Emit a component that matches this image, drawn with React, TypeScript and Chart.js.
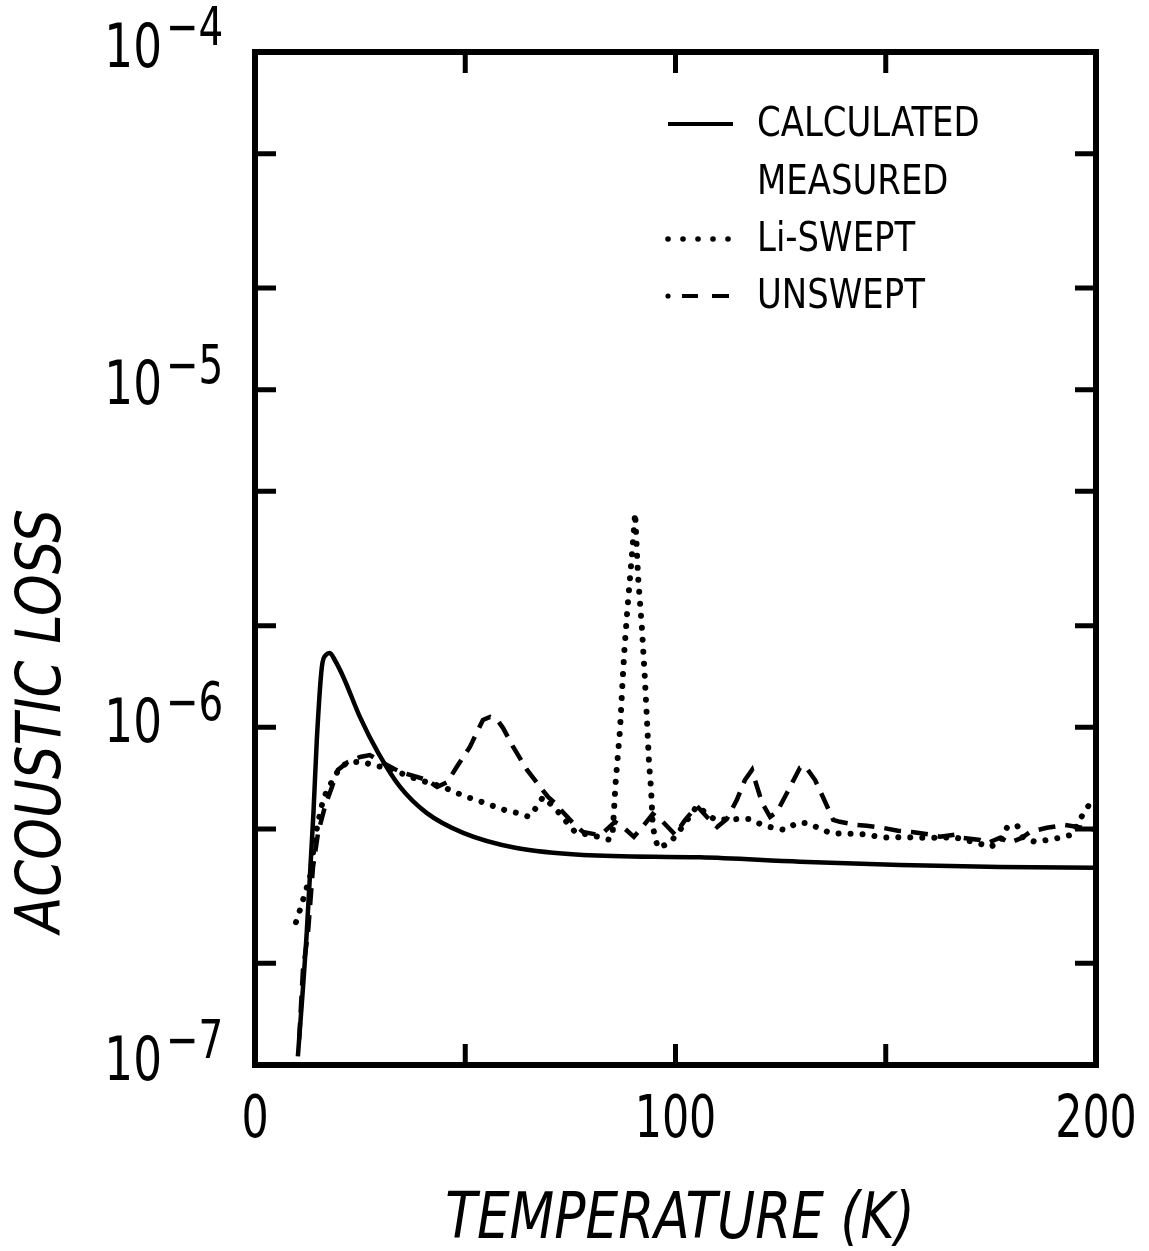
import React, { useEffect, useRef } from "react";
import { Chart, registerables } from "chart.js";

Chart.register(...registerables);

// ---- data (temperature in K, acoustic loss) ----
const CALC_T = [10.2, 12.3, 13.9, 14.7, 15.9, 16.9, 17.8, 19.0, 21.0, 25.0, 29.3, 34.5, 40.8, 49.5, 62.2, 78, 105.8, 129.6, 153.4, 177.2, 200];
const CALC_V = [1.06e-7, 2.46e-7, 5.58e-7, 9.18e-7, 1.51e-6, 1.64e-6, 1.66e-6, 1.58e-6, 1.41e-6, 1.07e-6, 8.4e-7, 6.66e-7, 5.58e-7, 4.87e-7, 4.39e-7, 4.19e-7, 4.12e-7, 4.0e-7, 3.91e-7, 3.86e-7, 3.84e-7];

const LI_T = [9.75, 10.7, 13.1, 14.3, 15.5, 16.2, 17.4, 19.0, 20.2, 22.6, 25.7, 28.5, 31.6, 36.9, 40.9, 45.2, 48.0, 51.1, 54.0, 56.6, 59.4, 62.3, 65.2, 66.8, 68.5, 71.3, 76.1, 81.6, 84.4, 85.1, 85.8, 86.8, 87.3, 87.8, 88.2, 88.6, 89.2, 89.7, 90.4, 91.1, 92.0, 92.7, 93.3, 93.7, 94.2, 94.6, 95.8, 98.7, 102.0, 105.1, 109.4, 114.9, 117.7, 120.6, 123.2, 126.0, 128.9, 131.3, 133.9, 136.7, 139.6, 142.7, 145.5, 148.4, 151.2, 154.1, 157.0, 160.0, 163.4, 166.0, 168.8, 171.7, 174.8, 177.2, 178.8, 181.2, 182.6, 185.5, 188.6, 191.4, 194.3, 195.7, 197.1, 198.8, 199.6];
const LI_V = [2.65e-7, 2.88e-7, 3.61e-7, 4.74e-7, 5.58e-7, 6.1e-7, 6.62e-7, 7.13e-7, 7.64e-7, 7.9e-7, 7.9e-7, 7.69e-7, 7.59e-7, 7.13e-7, 6.88e-7, 6.62e-7, 6.39e-7, 6.18e-7, 6.01e-7, 5.85e-7, 5.69e-7, 5.58e-7, 5.43e-7, 5.77e-7, 6.22e-7, 5.77e-7, 4.9e-7, 4.74e-7, 4.64e-7, 4.97e-7, 6.98e-7, 9.82e-7, 1.29e-6, 1.66e-6, 1.94e-6, 2.27e-6, 2.79e-6, 3.31e-6, 4.31e-6, 2.79e-6, 1.98e-6, 1.41e-6, 1.0e-6, 7.85e-7, 6.53e-7, 5.07e-7, 4.39e-7, 4.55e-7, 5.14e-7, 5.85e-7, 5.32e-7, 5.35e-7, 5.35e-7, 5.14e-7, 5.04e-7, 4.97e-7, 5.21e-7, 5.21e-7, 5.04e-7, 4.87e-7, 4.84e-7, 4.84e-7, 4.81e-7, 4.74e-7, 4.71e-7, 4.74e-7, 4.71e-7, 4.71e-7, 4.71e-7, 4.74e-7, 4.64e-7, 4.55e-7, 4.42e-7, 4.58e-7, 5.04e-7, 5.14e-7, 4.71e-7, 4.58e-7, 4.64e-7, 4.71e-7, 4.81e-7, 5.21e-7, 5.58e-7, 6.01e-7, 6.2e-7];

const UN_T = [10.5, 11.4, 12.6, 13.8, 15.0, 16.6, 18.3, 19.7, 22.1, 25.0, 27.3, 30.4, 34.5, 38.5, 40.9, 43.3, 45.7, 48.0, 51.1, 54.2, 55.9, 57.6, 59.0, 61.4, 64.7, 67.8, 69.7, 71.3, 73.2, 75.6, 78.0, 81.3, 82.8, 85.6, 87.5, 90.1, 92.0, 94.6, 97.0, 99.9, 102.3, 105.1, 107.7, 109.9, 112.2, 114.6, 116.5, 118.2, 118.9, 120.6, 122.5, 124.1, 126.5, 129.6, 130.8, 133.2, 135.6, 137.5, 139.1, 143.2, 145.5, 149.3, 152.9, 156.2, 160.5, 162.9, 166.5, 168.1, 172.4, 174.3, 177.2, 179.5, 182.4, 184.3, 188.3, 192.6, 200];
const UN_V = [1.19e-7, 1.91e-7, 2.46e-7, 3.86e-7, 4.87e-7, 5.81e-7, 6.66e-7, 7.48e-7, 7.9e-7, 8.17e-7, 8.28e-7, 7.85e-7, 7.38e-7, 7.13e-7, 6.98e-7, 6.66e-7, 6.88e-7, 7.64e-7, 8.75e-7, 1.052e-6, 1.074e-6, 1.052e-6, 9.95e-7, 8.75e-7, 7.48e-7, 6.66e-7, 6.22e-7, 5.97e-7, 5.61e-7, 5.21e-7, 4.9e-7, 4.81e-7, 4.87e-7, 5.25e-7, 5.07e-7, 4.74e-7, 5.04e-7, 5.54e-7, 5.25e-7, 4.81e-7, 5.32e-7, 5.85e-7, 5.39e-7, 5.07e-7, 5.35e-7, 6.1e-7, 6.98e-7, 7.48e-7, 6.98e-7, 5.97e-7, 5.43e-7, 5.61e-7, 6.39e-7, 7.59e-7, 7.69e-7, 6.98e-7, 6.01e-7, 5.32e-7, 5.25e-7, 5.14e-7, 5.11e-7, 5.04e-7, 4.94e-7, 4.9e-7, 4.81e-7, 4.74e-7, 4.81e-7, 4.71e-7, 4.64e-7, 4.55e-7, 4.71e-7, 4.55e-7, 4.71e-7, 4.9e-7, 5.04e-7, 5.14e-7, 4.97e-7];

const X_TICKS = [0, 50, 100, 150, 200];
const X_LABELED = [0, 100, 200];
const Y_TICKS = [1e-7, 2e-7, 5e-7, 1e-6, 2e-6, 5e-6, 1e-5, 2e-5, 5e-5, 1e-4];
const Y_LABELED = [1e-7, 1e-6, 1e-5, 1e-4];

const X_TITLE = "TEMPERATURE (K)";
const Y_TITLE = "ACOUSTIC LOSS";
const LEGEND_LABELS = ["CALCULATED", "MEASURED", "Li-SWEPT", "UNSWEPT"];
const LEGEND_STYLES = ["solid", "none", "dotted", "dashed"];

const FONT = '"Liberation Sans Narrow", "DejaVu Sans Condensed", "Liberation Sans", sans-serif';

const DOT_DASH = [0.01, 12];
const DASH_DASH = [17, 10];

const toPts = (xs: number[], ys: number[]) => xs.map((x, i) => ({ x, y: ys[i] }));

function txt(ctx: any, s: string, x: number, y: number, font: string, sx: number, align: string, rot = 0) {
  ctx.save();
  ctx.translate(x, y);
  if (rot) ctx.rotate(rot);
  ctx.scale(sx, 1);
  ctx.font = font;
  ctx.textAlign = align;
  ctx.textBaseline = "middle";
  ctx.fillText(s, 0, 0);
  ctx.restore();
}

const decorPlugin = {
  id: "decor",
  afterDraw(chart: any) {
    const { ctx, chartArea } = chart;
    const xs = chart.scales.x;
    const ys = chart.scales.y;
    const { left, right, top, bottom } = chartArea;
    ctx.save();
    ctx.strokeStyle = "#000";
    ctx.fillStyle = "#000";
    // frame
    ctx.lineWidth = 6;
    ctx.setLineDash([]);
    ctx.strokeRect(left, top, right - left, bottom - top);
    // inward ticks
    ctx.lineWidth = 5;
    const tl = 21;
    X_TICKS.forEach((v) => {
      if (v === xs.min || v === xs.max) return;
      const px = xs.getPixelForValue(v);
      ctx.beginPath();
      ctx.moveTo(px, bottom);
      ctx.lineTo(px, bottom - tl);
      ctx.moveTo(px, top);
      ctx.lineTo(px, top + tl);
      ctx.stroke();
    });
    Y_TICKS.forEach((v) => {
      if (v === ys.min || v === ys.max) return;
      const py = ys.getPixelForValue(v);
      ctx.beginPath();
      ctx.moveTo(left, py);
      ctx.lineTo(left + tl, py);
      ctx.moveTo(right, py);
      ctx.lineTo(right - tl, py);
      ctx.stroke();
    });
    // x tick labels
    X_LABELED.forEach((v) => {
      const px = xs.getPixelForValue(v);
      txt(ctx, String(v), px, bottom + 57, `58px ${FONT}`, 0.82, "center");
    });
    // y tick labels (10 with exponent)
    Y_LABELED.forEach((v) => {
      const py = ys.getPixelForValue(v);
      const exp = Math.round(Math.log10(v));
      txt(ctx, "10", 162, py - 1, `60px ${FONT}`, 0.84, "right");
      txt(ctx, "\u2212" + String(Math.abs(exp)), 166, py - 21, `54px ${FONT}`, 0.8, "left");
    });
    // titles
    txt(ctx, Y_TITLE, 44, 721, `italic 62px ${FONT}`, 0.95, "center", -Math.PI / 2);
    txt(ctx, X_TITLE, 680, 1221, `italic 64px ${FONT}`, 0.9, "center");
    // legend
    const rowY = [124, 182, 239, 296];
    const sx0 = 668;
    const sx1 = 733;
    LEGEND_LABELS.forEach((lab, i) => {
      const y = rowY[i];
      const st = LEGEND_STYLES[i];
      ctx.setLineDash([]);
      ctx.lineCap = "butt";
      if (st === "solid") {
        ctx.lineWidth = 4;
        ctx.beginPath();
        ctx.moveTo(sx0, y);
        ctx.lineTo(sx1, y);
        ctx.stroke();
      } else if (st === "dotted") {
        for (let k = 0; k < 5; k++) {
          ctx.beginPath();
          ctx.arc(sx0 + k * 15, y, 2.8, 0, Math.PI * 2);
          ctx.fill();
        }
      } else if (st === "dashed") {
        ctx.beginPath();
        ctx.arc(sx0, y, 2.6, 0, Math.PI * 2);
        ctx.fill();
        ctx.lineWidth = 4;
        ctx.beginPath();
        ctx.moveTo(sx0 + 14, y);
        ctx.lineTo(sx0 + 30, y);
        ctx.moveTo(sx0 + 44, y);
        ctx.lineTo(sx0 + 61, y);
        ctx.stroke();
      }
      txt(ctx, lab, 757, y + 1, `41px ${FONT}`, 0.92, "left");
    });
    ctx.restore();
  },
};

export default function App() {
  const ref = useRef<HTMLCanvasElement | null>(null);
  useEffect(() => {
    document.body.style.margin = "0";
    const canvas = ref.current;
    if (!canvas) return;
    const chart = new Chart(canvas, {
      type: "line",
      data: {
        datasets: [
          {
            label: LEGEND_LABELS[0],
            data: toPts(CALC_T, CALC_V),
            borderColor: "#000",
            borderWidth: 4.5,
            pointRadius: 0,
            cubicInterpolationMode: "monotone",
            fill: false,
          },
          {
            label: LEGEND_LABELS[2],
            data: toPts(LI_T, LI_V),
            borderColor: "#000",
            borderWidth: 6,
            borderDash: DOT_DASH,
            borderCapStyle: "round",
            pointRadius: 0,
            tension: 0,
            fill: false,
          },
          {
            label: LEGEND_LABELS[3],
            data: toPts(UN_T, UN_V),
            borderColor: "#000",
            borderWidth: 4.5,
            borderDash: DASH_DASH,
            pointRadius: 0,
            tension: 0,
            fill: false,
          },
        ],
      },
      options: {
        animation: false,
        responsive: false,
        devicePixelRatio: 1,
        layout: { padding: { left: 255, right: 53, top: 52, bottom: 0 } },
        plugins: { legend: { display: false }, tooltip: { enabled: false } },
        scales: {
          x: {
            type: "linear",
            min: 0,
            max: 200,
            afterBuildTicks: (s: any) => {
              s.ticks = X_TICKS.map((v) => ({ value: v }));
            },
            afterFit: (s: any) => {
              s.height = 1251 - 1065;
              s.paddingLeft = 0;
              s.paddingRight = 0;
            },
            ticks: { display: false },
            grid: { display: false, drawTicks: false },
            border: { display: false },
          },
          y: {
            type: "logarithmic",
            min: 1e-7,
            max: 1e-4,
            afterBuildTicks: (s: any) => {
              s.ticks = Y_TICKS.map((v) => ({ value: v }));
            },
            afterFit: (s: any) => {
              s.width = 0;
              s.paddingTop = 0;
              s.paddingBottom = 0;
            },
            ticks: { display: false },
            grid: { display: false, drawTicks: false },
            border: { display: false },
          },
        },
      },
      plugins: [decorPlugin],
    } as any);
    return () => chart.destroy();
  }, []);
  return (
    <div style={{ position: "absolute", left: 0, top: 0, width: 1149, height: 1251, background: "#fff" }}>
      <canvas ref={ref} width={1149} height={1251} style={{ display: "block" }} />
    </div>
  );
}
